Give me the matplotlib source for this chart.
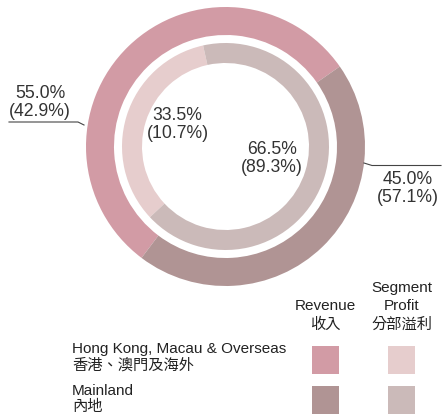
import matplotlib.pyplot as plt
from matplotlib.patches import Rectangle

# data
region_en = ['Hong Kong, Macau & Overseas', 'Mainland']
region_zh = ['香港、澳門及海外', '內地']
revenue = [55.0, 45.0]
profit = [33.5, 66.5]
revenue_prev = [42.9, 57.1]   # figures in brackets
profit_prev = [10.7, 89.3]
revenue_colors = ['#d29ba5', '#b09494']
profit_colors = ['#e6cdcd', '#cbbab9']
header_rev = ['Revenue', '收入']
header_profit = ['Segment', 'Profit', '分部溢利']

W, H = 442, 419
plt.rcParams['font.family'] = ['Liberation Sans', 'Noto Sans CJK TC', 'DejaVu Sans']

fig = plt.figure(figsize=(W / 100, H / 100), dpi=100)
ax = fig.add_axes([0, 0, 1, 1])


def py(y):
    # pixel row (from top) -> data y
    return H - y


cx, cy = 225.5, py(146.5)

ax.pie(revenue, radius=139.5, center=(cx, cy), startangle=35,
       colors=revenue_colors, wedgeprops=dict(width=28, edgecolor='none'))
ax.pie(profit, radius=103.5, center=(cx, cy), startangle=102.5,
       colors=profit_colors, wedgeprops=dict(width=20, edgecolor='none'))

big = dict(fontsize=12.7, color='#333333', ha='center', va='center')


def pair(x, y, value, prev, gap=19):
    ax.text(x, py(y), f'{value:.1f}%', **big)
    ax.text(x, py(y + gap), f'({prev:.1f}%)', **big)


# outer ring labels
pair(40, 93, revenue[0], revenue_prev[0])
pair(408, 180, revenue[1], revenue_prev[1], gap=18)
ax.plot([9, 78, 84], [py(122), py(122), py(125)], color='#444444', lw=0.8)
ax.plot([364, 372, 441], [py(163), py(165.5), py(165.5)], color='#444444', lw=0.8)

# inner ring labels
pair(177.5, 115, profit[0], profit_prev[0], gap=18)
pair(272, 149, profit[1], profit_prev[1], gap=18)

# legend
small = dict(fontsize=11, color='#222222', va='center')
ax.text(325, py(306), header_rev[0], ha='center', **small)
ax.text(325, py(325), header_rev[1], ha='center', **small)
for j, y in enumerate([288, 306, 325]):
    ax.text(402, py(y), header_profit[j], ha='center', **small)

rows_y = [(349, 365), (391, 407)]
for i in range(len(region_en)):
    ax.text(72, py(rows_y[i][0]), region_en[i], ha='left', **small)
    ax.text(72, py(rows_y[i][1]), region_zh[i], ha='left', **small)
    y0 = py(374) if i == 0 else py(414)
    ax.add_patch(Rectangle((312, y0), 27, 28, color=revenue_colors[i], lw=0))
    ax.add_patch(Rectangle((388, y0), 27, 28, color=profit_colors[i], lw=0))

ax.set_xlim(0, W)
ax.set_ylim(0, H)
ax.set_aspect('auto')
ax.axis('off')

fig.savefig('out.png', dpi=100, facecolor='white')
